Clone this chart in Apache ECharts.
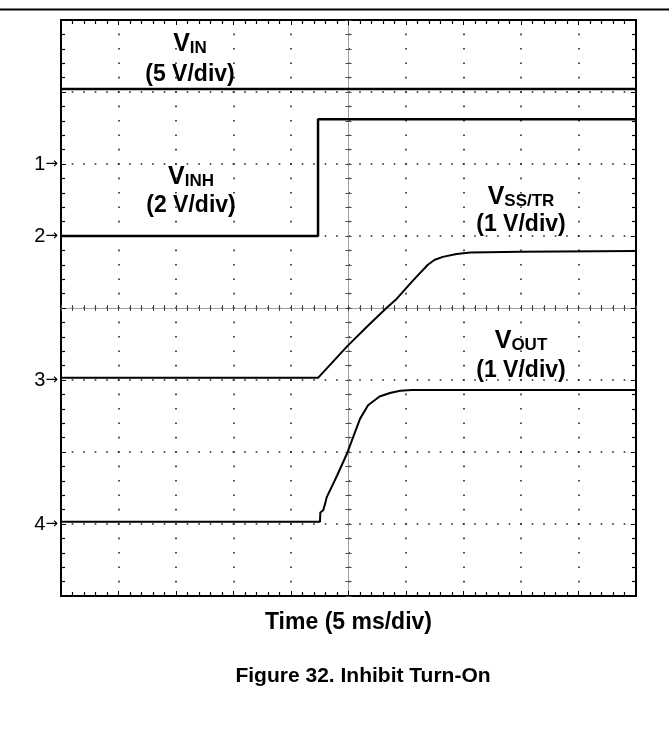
<!DOCTYPE html>
<html>
<head>
<meta charset="utf-8">
<script src="https://cdn.jsdelivr.net/npm/echarts@6/dist/echarts.min.js"></script>
<style>
  html, body { margin: 0; padding: 0; background: #fff; }
  #chart { width: 669px; height: 729px; }
</style>
</head>
<body>
<div id="chart"></div>
<script>
// Time base: 10 divisions of 5 ms
const timeMin = 0;
const timeMax = 50;
const timeStep = 5;
const timeTitle = 'Time (5 ms/div)';
const caption = 'Figure 32. Inhibit Turn-On';

// Vertical screen: 8 divisions
const screenDivs = 8;

// Channels: marker label, volts per division, ground marker level (divisions from bottom)
const channelMarks = ['1', '2', '3', '4'];
const voltsPerDiv = [5, 2, 1, 1];
const groundDiv = [6, 5, 3, 1];

// Traces as [time ms, volts]
const vinTrace = [[0, 5.2], [50, 5.2]];
const vinhTrace = [[0, 0], [22.35, 0], [22.35, 3.24], [50, 3.24]];
const vssTrace = [
  [0, 0.03], [22.35, 0.03], [24.9, 0.47], [26.6, 0.74], [28.3, 1.0], [29.2, 1.13],
  [30.6, 1.38], [31.9, 1.6], [32.5, 1.67], [33.2, 1.71], [34.4, 1.75], [35.6, 1.77],
  [40, 1.78], [50, 1.79]
];
const voutTrace = [
  [0, 0.03], [22.52, 0.03], [22.55, 0.16], [22.8, 0.19], [23.0, 0.3], [23.1, 0.37],
  [24.0, 0.67], [24.9, 0.99], [26.0, 1.46], [26.7, 1.65], [27.7, 1.77], [28.6, 1.82],
  [29.5, 1.85], [30.5, 1.86], [50, 1.86]
];

const FONT = '"Liberation Sans", Arial, Helvetica, sans-serif';
const GRID = { left: 61, right: 33, top: 20, bottom: 133 };
const plotW = 669 - GRID.left - GRID.right;
const plotH = 729 - GRID.top - GRID.bottom;

const hidden = { show: false };

// plot frame axes with small inward ticks at every minor division
function frameX(position, withGrid) {
  return {
    type: 'value', position, min: timeMin, max: timeMax, interval: timeStep,
    axisLine: { onZero: false, lineStyle: { color: '#000', width: 2 } },
    axisTick: { show: true, inside: true, length: 5, lineStyle: { color: '#000', width: 1 } },
    minorTick: { show: true, splitNumber: 5, length: 4, lineStyle: { color: '#000', width: 1.2 } },
    axisLabel: hidden,
    splitLine: withGrid ? {
      show: true,
      lineStyle: { color: '#222', width: 1.6, type: [1.6, plotH / screenDivs / 5 - 1.6], dashOffset: 0.8 }
    } : hidden
  };
}
function frameY(position, withGrid) {
  return {
    type: 'value', position, min: 0, max: screenDivs, interval: 1,
    axisLine: { onZero: false, lineStyle: { color: '#000', width: 2 } },
    axisTick: { show: true, inside: true, length: 5, lineStyle: { color: '#000', width: 1 } },
    minorTick: { show: true, splitNumber: 5, length: 4, lineStyle: { color: '#000', width: 1.2 } },
    axisLabel: hidden,
    splitLine: withGrid ? {
      show: true,
      lineStyle: { color: '#222', width: 1.6, type: [1.6, plotW / 10 / 5 - 1.6], dashOffset: 0.8 }
    } : hidden
  };
}
// graticule centre lines: fine dotted line with ticks on both sides
function centreX(inside) {
  return {
    type: 'value', position: 'bottom', offset: -plotH / 2,
    min: timeMin, max: timeMax, interval: timeStep,
    axisLine: { onZero: false, lineStyle: { color: '#999', width: 1, type: [1, 1] } },
    axisTick: { show: true, inside, length: 3, lineStyle: { color: '#444', width: 1 } },
    minorTick: { show: true, splitNumber: 5, length: 3, lineStyle: { color: '#444', width: 1 } },
    axisLabel: hidden, splitLine: hidden
  };
}
function centreY(inside) {
  return {
    type: 'value', position: 'left', offset: -plotW / 2,
    min: 0, max: screenDivs, interval: 1,
    axisLine: { onZero: false, lineStyle: { color: '#999', width: 1, type: [1, 1] } },
    axisTick: { show: true, inside, length: 3, lineStyle: { color: '#444', width: 1 } },
    minorTick: { show: true, splitNumber: 5, length: 3, lineStyle: { color: '#444', width: 1 } },
    axisLabel: hidden, splitLine: hidden
  };
}
// one value axis per channel, scaled by its V/div and ground marker
function channelAxis(i) {
  const vpd = voltsPerDiv[i];
  return {
    type: 'value', position: 'left',
    min: -groundDiv[i] * vpd, max: (screenDivs - groundDiv[i]) * vpd, interval: vpd,
    axisLine: { show: false, onZero: false }, axisTick: hidden, splitLine: hidden,
    axisLabel: {
      show: true, margin: 3,
      formatter: v => (Math.abs(v) < 1e-9 ? '{n|' + channelMarks[i] + '}{a|→}' : ''),
      rich: {
        n: { fontFamily: FONT, fontSize: 20, color: '#000' },
        a: { fontFamily: '"DejaVu Sans", sans-serif', fontSize: 15, color: '#000' }
      }
    }
  };
}

const xAxes = [frameX('bottom', true), frameX('top', false), centreX(false), centreX(true)];
xAxes[0].name = timeTitle;
xAxes[0].nameLocation = 'middle';
xAxes[0].nameGap = 15;
xAxes[0].nameTextStyle = { fontFamily: FONT, fontSize: 23, fontWeight: 'bold', color: '#000' };

const yAxes = [frameY('left', true), frameY('right', false), centreY(false), centreY(true)]
  .concat(channelMarks.map((_, i) => channelAxis(i)));

function trace(data, axisIdx, width) {
  return {
    type: 'line', data, xAxisIndex: 0, yAxisIndex: 4 + axisIdx,
    showSymbol: false, symbol: 'none', animation: false, z: 5,
    lineStyle: { color: '#000', width }
  };
}

function nameLabel(x, y, main, sub, scaleText, gap) {
  return [{
    type: 'text', x, y, z: 10,
    style: {
      text: '{v|' + main + '}{s|' + sub + '}',
      align: 'center', verticalAlign: 'middle', fill: '#000',
      rich: {
        v: { fontFamily: FONT, fontSize: 25, fontWeight: 'bold', lineHeight: 26, fill: '#000' },
        s: { fontFamily: FONT, fontSize: 17, fontWeight: 'bold', lineHeight: 18, verticalAlign: 'bottom', fill: '#000' }
      }
    }
  }, {
    type: 'text', x, y: y + gap, z: 10,
    style: {
      text: scaleText, align: 'center', verticalAlign: 'middle', fill: '#000',
      font: 'bold 23px ' + FONT
    }
  }];
}

const chart = echarts.init(document.getElementById('chart'), null, { renderer: 'canvas' });
chart.setOption({
  animation: false,
  backgroundColor: '#fff',
  grid: { left: GRID.left, right: GRID.right, top: GRID.top, bottom: GRID.bottom, containLabel: false },
  xAxis: xAxes,
  yAxis: yAxes,
  series: [
    trace(vinTrace, 0, 2.5),
    trace(vinhTrace, 1, 2.5),
    trace(vssTrace, 2, 2),
    trace(voutTrace, 3, 2)
  ],
  graphic: [
    { type: 'line', shape: { x1: 0, y1: 9.5, x2: 669, y2: 9.5 }, style: { stroke: '#000', lineWidth: 2 } },
    ...nameLabel(190, 44, 'V', 'IN', '(' + voltsPerDiv[0] + ' V/div)', 31),
    ...nameLabel(191, 177, 'V', 'INH', '(' + voltsPerDiv[1] + ' V/div)', 29),
    ...nameLabel(521, 197, 'V', 'SS/TR', '(' + voltsPerDiv[2] + ' V/div)', 28),
    ...nameLabel(521, 341, 'V', 'OUT', '(' + voltsPerDiv[3] + ' V/div)', 30),
    {
      type: 'text', x: 363, y: 676,
      style: { text: caption, align: 'center', verticalAlign: 'middle', fill: '#000', font: 'bold 21px ' + FONT }
    }
  ]
});
</script>
</body>
</html>
